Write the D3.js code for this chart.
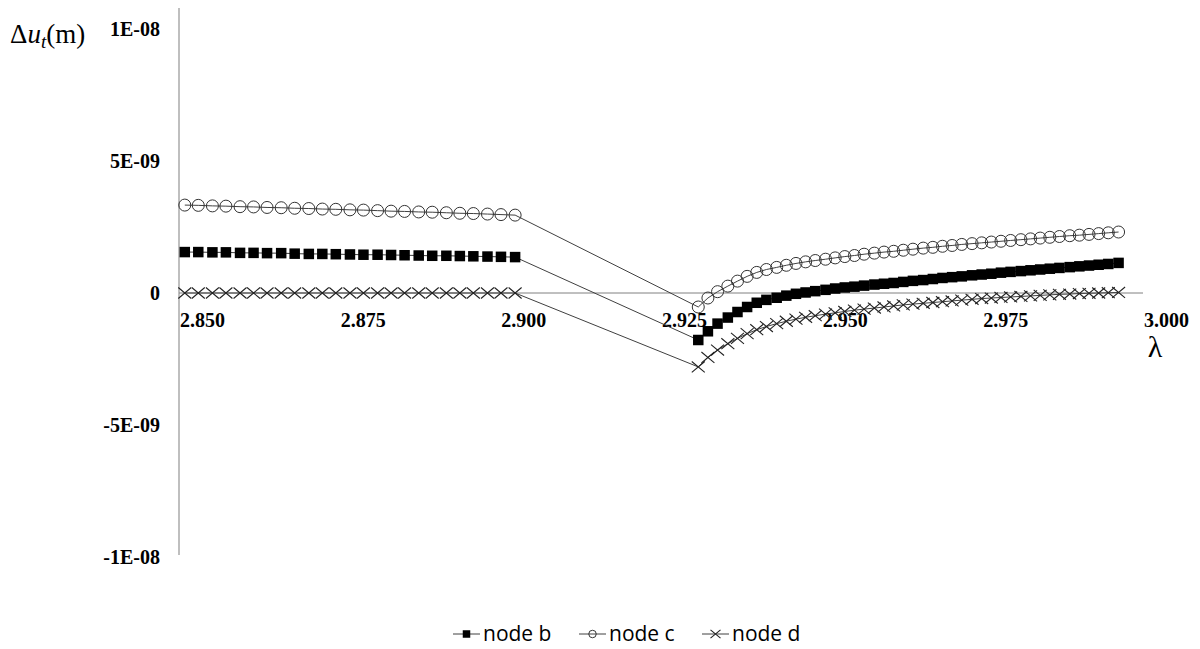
<!DOCTYPE html>
<html>
<head>
<meta charset="utf-8">
<script src="https://cdn.jsdelivr.net/npm/d3@7"></script>
<style>
  body { margin: 0; background: #fff; }
  svg { display: block; }
</style>
</head>
<body>
<svg id="chart" width="1200" height="649"></svg>
<script>
// lambda values (x)
const lambdas = [
  2.8509, 2.8530, 2.8552, 2.8573, 2.8595, 2.8616, 2.8637, 2.8659, 2.8680, 2.8702,
  2.8723, 2.8744, 2.8766, 2.8787, 2.8809, 2.8830, 2.8851, 2.8873, 2.8894, 2.8916,
  2.8937, 2.8958, 2.8980, 2.9001, 2.9023,
  2.9308, 2.9323, 2.9338, 2.9354, 2.9369, 2.9384, 2.9399, 2.9414, 2.9430, 2.9445,
  2.9460, 2.9475, 2.9490, 2.9506, 2.9521, 2.9536, 2.9551, 2.9566, 2.9582, 2.9597,
  2.9612, 2.9627, 2.9642, 2.9658, 2.9673, 2.9688, 2.9703, 2.9718, 2.9734, 2.9749,
  2.9764, 2.9779, 2.9794, 2.9810, 2.9825, 2.9840, 2.9855, 2.9870, 2.9886, 2.9901,
  2.9916, 2.9931, 2.9946, 2.9962
];

// displacements in units of 1e-9 m
const nodeB = [
  1.55, 1.55, 1.54, 1.54, 1.52, 1.52, 1.51, 1.51, 1.49, 1.48,
  1.48, 1.47, 1.46, 1.45, 1.45, 1.44, 1.43, 1.42, 1.41, 1.41,
  1.40, 1.39, 1.38, 1.37, 1.36,
  -1.78, -1.45, -1.16, -0.93, -0.72, -0.53, -0.37, -0.26, -0.18, -0.10,
  -0.03, 0.02, 0.07, 0.12, 0.17, 0.21, 0.24, 0.28, 0.32, 0.35,
  0.38, 0.42, 0.46, 0.49, 0.53, 0.57, 0.60, 0.63, 0.67, 0.70,
  0.73, 0.77, 0.80, 0.83, 0.86, 0.89, 0.92, 0.95, 0.98, 1.01,
  1.04, 1.07, 1.10, 1.14
];
const nodeC = [
  3.33, 3.32, 3.30, 3.29, 3.27, 3.26, 3.24, 3.23, 3.21, 3.20,
  3.18, 3.17, 3.15, 3.14, 3.12, 3.10, 3.09, 3.07, 3.06, 3.04,
  3.02, 3.01, 2.99, 2.97, 2.95,
  -0.53, -0.19, 0.05, 0.26, 0.45, 0.63, 0.78, 0.89, 0.97, 1.05,
  1.12, 1.18, 1.23, 1.28, 1.33, 1.38, 1.42, 1.47, 1.51, 1.55,
  1.58, 1.62, 1.66, 1.70, 1.73, 1.77, 1.80, 1.84, 1.87, 1.90,
  1.93, 1.96, 1.99, 2.02, 2.05, 2.08, 2.11, 2.14, 2.17, 2.19,
  2.22, 2.25, 2.28, 2.31
];
const nodeD = [
  0.00, 0.00, 0.00, 0.00, 0.00, 0.00, 0.00, 0.00, 0.00, 0.00,
  0.00, 0.00, 0.00, 0.00, 0.00, 0.00, 0.00, 0.00, 0.00, 0.00,
  0.00, 0.00, 0.00, 0.00, 0.00,
  -2.80, -2.44, -2.16, -1.92, -1.72, -1.54, -1.39, -1.27, -1.16, -1.07,
  -0.99, -0.92, -0.86, -0.80, -0.75, -0.70, -0.65, -0.61, -0.57, -0.53,
  -0.49, -0.45, -0.42, -0.39, -0.36, -0.33, -0.30, -0.27, -0.24, -0.21,
  -0.19, -0.17, -0.15, -0.13, -0.11, -0.09, -0.07, -0.05, -0.04, -0.02,
  -0.01, 0.00, 0.01, 0.02
];

const seriesNames = ['node b', 'node c', 'node d'];
const xTicks = [2.850, 2.875, 2.900, 2.925, 2.950, 2.975, 3.000];
const yTicks = [1e-8, 5e-9, 0, -5e-9, -1e-8];
const yTickLabels = ['1E-08', '5E-09', '0', '-5E-09', '-1E-08'];

const svg = d3.select('#chart');

const x = d3.scaleLinear().domain([2.85, 3.0]).range([179, 1143]);
const y = d3.scaleLinear().domain([-1e-8, 1e-8]).range([557, 29]);

// vertical axis line
svg.append('line')
  .attr('x1', x(2.85)).attr('x2', x(2.85))
  .attr('y1', y(1e-8) - 21).attr('y2', y(-1e-8) - 2)
  .attr('stroke', '#bfbfbf').attr('stroke-width', 2);

// horizontal zero line
svg.append('line')
  .attr('x1', x(2.85)).attr('x2', x(3.0))
  .attr('y1', y(0)).attr('y2', y(0))
  .attr('stroke', '#808080').attr('stroke-width', 1);

// y tick labels
svg.selectAll('.ylab')
  .data(yTicks)
  .enter()
  .append('text')
  .attr('class', 'ylab')
  .attr('x', 160)
  .attr('y', d => y(d) + 7)
  .attr('text-anchor', 'end')
  .attr('font-family', 'Liberation Serif, Times New Roman, serif')
  .attr('font-weight', 'bold')
  .attr('font-size', 20)
  .attr('fill', '#000')
  .text((d, i) => yTickLabels[i]);

// x tick labels (sit to the right of their tick)
svg.selectAll('.xlab')
  .data(xTicks)
  .enter()
  .append('text')
  .attr('class', 'xlab')
  .attr('x', d => x(d) + 1)
  .attr('y', 327)
  .attr('font-family', 'Liberation Serif, Times New Roman, serif')
  .attr('font-weight', 'bold')
  .attr('font-size', 20)
  .attr('fill', '#000')
  .text(d => d.toFixed(3));

// axis titles
const yt = svg.append('text')
  .attr('x', 10).attr('y', 43)
  .attr('font-family', 'Liberation Serif, Times New Roman, serif')
  .attr('font-size', 27)
  .attr('fill', '#000');
yt.append('tspan').text('\u0394');
yt.append('tspan').attr('font-style', 'italic').text('u');
yt.append('tspan').attr('font-style', 'italic').attr('font-size', 19).attr('dy', 5).text('t');
yt.append('tspan').attr('dy', -5).text('(m)');

svg.append('text')
  .attr('x', 1155).attr('y', 357)
  .attr('text-anchor', 'middle')
  .attr('font-family', 'Liberation Serif, Times New Roman, serif')
  .attr('font-size', 30)
  .attr('fill', '#000')
  .text('\u03bb');

// series
const allSeries = [nodeB, nodeC, nodeD].map((vals, k) => ({
  name: seriesNames[k],
  points: vals.map((v, i) => ({ lx: lambdas[i], v: v * 1e-9 }))
}));

const line = d3.line().x(d => x(d.lx)).y(d => y(d.v));

function drawMarker(sel, k, size) {
  if (k === 0) {
    sel.append('rect')
      .attr('x', -size / 2).attr('y', -size / 2)
      .attr('width', size).attr('height', size)
      .attr('fill', '#000');
  } else if (k === 1) {
    sel.append('circle')
      .attr('r', size / 2)
      .attr('fill', 'none')
      .attr('stroke', '#333')
      .attr('stroke-width', 1);
  } else {
    const hw = size / 2, hh = size * 0.42;
    sel.append('path')
      .attr('d', `M${-hw},${-hh}L${hw},${hh}M${-hw},${hh}L${hw},${-hh}`)
      .attr('fill', 'none')
      .attr('stroke', '#222')
      .attr('stroke-width', 1.1);
  }
}

const markerSize = [10.5, 12, 13];

allSeries.forEach((s, k) => {
  svg.append('path')
    .datum(s.points)
    .attr('d', line)
    .attr('fill', 'none')
    .attr('stroke', '#404040')
    .attr('stroke-width', 1);

  svg.append('g')
    .selectAll('g')
    .data(s.points)
    .enter()
    .append('g')
    .attr('transform', d => `translate(${x(d.lx)},${y(d.v)})`)
    .each(function () { drawMarker(d3.select(this), k, markerSize[k]); });
});

// legend
const legendX = [453, 579, 702];
const leg = svg.append('g').attr('transform', 'translate(0,634)');
seriesNames.forEach((name, k) => {
  const g = leg.append('g').attr('transform', `translate(${legendX[k]},0)`);
  g.append('line')
    .attr('x1', 0).attr('x2', 27)
    .attr('stroke', '#404040').attr('stroke-width', 1);
  const m = g.append('g').attr('transform', 'translate(13.5,0)');
  drawMarker(m, k, k === 2 ? 10 : 7.5);
  g.append('text')
    .attr('x', 30).attr('y', 7)
    .attr('font-family', 'Open Sans, Liberation Sans, sans-serif')
    .attr('font-size', 21)
    .attr('fill', '#000')
    .text(name);
});
</script>
</body>
</html>
